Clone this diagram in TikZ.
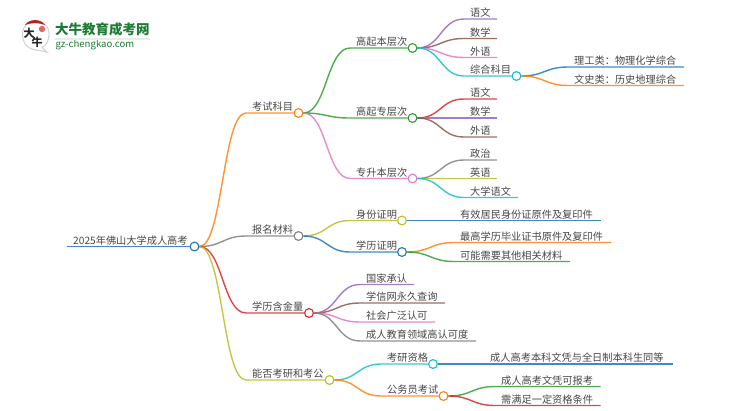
\documentclass[tikz,border=0pt]{standalone}
\usepackage{fontspec}
\setmainfont{Noto Sans CJK SC}
\usetikzlibrary{calc}
\definecolor{cblue}{HTML}{1F77B4}
\definecolor{corange}{HTML}{FF7F0E}
\definecolor{cgreen}{HTML}{2CA02C}
\definecolor{cred}{HTML}{D62728}
\definecolor{cpurple}{HTML}{9467BD}
\definecolor{cbrown}{HTML}{8C564B}
\definecolor{cpink}{HTML}{E377C2}
\definecolor{cgrey}{HTML}{7F7F7F}
\definecolor{colive}{HTML}{BCBD22}
\definecolor{ccyan}{HTML}{17BECF}
\definecolor{logogreen}{HTML}{1E7B34}
\tikzset{
  lbl/.style={anchor=base west,inner sep=0pt,text=black!72,font=\fontsize{10.2}{12}\selectfont},
  conn/.style={line width=1.4pt,draw opacity=.85},
  dot/.style={circle,draw=#1,fill=white,line width=1.1pt,minimum size=8.8pt,inner sep=0pt}
}
% name, parent, x start, y, x end, colour, text
\newcommand\lf[7]{%
  \coordinate (#1-s) at (#3,#4);
  \coordinate (#1-e) at (#5,#4);
  \node[lbl] (#1) at ({#3+6},{#4-2.2}) {#7};
  \coordinate (#1-m) at ($(#2.east)!.5!(#1-s)$);
  \draw[conn,draw=#6] (#2.east) .. controls (#1-m |- #2.east) and (#1-m |- #1-s) .. (#1-s) -- (#1-e);
}
% as \lf, the line ending in a ring at x end
\newcommand\nd[7]{%
  \coordinate (#1-s) at (#3,#4);
  \node[dot=#6] (#1-c) at (#5,#4) {};
  \node[lbl] (#1) at ({#3+6},{#4-2.2}) {#7};
  \coordinate (#1-m) at ($(#2.east)!.5!(#1-s)$);
  \draw[conn,draw=#6] (#2.east) .. controls (#1-m |- #2.east) and (#1-m |- #1-s) .. (#1-s) -- (#1-c.west);
}
\begin{document}
\begin{tikzpicture}[x=1pt,y=-1pt]
\useasboundingbox (0,0) rectangle (750,410);
\fill[white] (0,0) rectangle (750,410);
% logo
\draw[black!18,line width=1pt,fill=white] (36,50) .. controls (24,48) and (22.5,40) .. (22.5,34) .. controls (22.5,26) and (29,20.5) .. (35,20.5) .. controls (43,20.5) and (49,26) .. (49,34) .. controls (49,41) and (46,46) .. (42,47.5) -- (47,52) -- cycle;
\fill[cred!85!black] (25,25) .. controls (29,18.5) and (41,18.5) .. (45,25) .. controls (39,22.5) and (31,22.5) .. (25,25) -- cycle;
\fill[cred!70] (42,29) circle (3.2pt);
\node[inner sep=0pt,font=\fontsize{11}{11}\selectfont\bfseries,text=black!85] (logoa) at (29,33) {大};
\node[inner sep=0pt,font=\fontsize{11}{11}\selectfont\bfseries,text=black!85] (logob) at (37,42) {牛};
\node[anchor=west,inner sep=0pt,font=\fontsize{13.5}{14}\selectfont\bfseries,text=logogreen] (logot) at (55,29.5) {大牛教育成考网};
\node[anchor=west,inner sep=0pt,font=\fontsize{9.6}{10}\selectfont,text=logogreen] (logou) at (55.5,45) {gz-chengkao.com};
\fill[logogreen!12] (55,38) rectangle (150,39.5);
% root
\coordinate (root-s) at (67,246.5);
\node[dot=cblue] (root-c) at (194.5,246.5) {};
\node[lbl] (root) at (73,244.3) {2025年佛山大学成人高考};
\draw[conn,draw=cblue] (root-s) -- (root-c.west);
% level 1
\nd{ks}{root-c}{246}{113}{298.5}{corange}{考试科目}
\nd{bm}{root-c}{246}{236}{298.5}{cgrey}{报名材料}
\nd{xl}{root-c}{246}{313}{309}{cred}{学历含金量}
\nd{ng}{root-c}{246}{380}{329.5}{colive}{能否考研和考公}
% exam subjects
\nd{gb}{ks-c}{350}{48}{412.5}{cgreen}{高起本层次}
\nd{gz}{ks-c}{350}{118}{412.5}{cgreen}{高起专层次}
\nd{zs}{ks-c}{350}{178.5}{412.5}{cpink}{专升本层次}
\lf{gb1}{gb-c}{464}{19}{497}{cpurple}{语文}
\lf{gb2}{gb-c}{464}{38.5}{497}{cbrown}{数学}
\lf{gb3}{gb-c}{464}{57.5}{497}{cpink}{外语}
\nd{gb4}{gb-c}{464}{76}{516.5}{ccyan}{综合科目}
\lf{lg}{gb4-c}{568}{67}{684}{cblue}{理工类：物理化学综合}
\lf{ws}{gb4-c}{568}{85.5}{684}{corange}{文史类：历史地理综合}
\lf{gz1}{gz-c}{464}{99}{497}{cred}{语文}
\lf{gz2}{gz-c}{464}{118}{497}{cpurple}{数学}
\lf{gz3}{gz-c}{464}{137}{497}{cbrown}{外语}
\lf{zs1}{zs-c}{464}{160}{497}{cgrey}{政治}
\lf{zs2}{zs-c}{464}{178.5}{497}{colive}{英语}
\lf{zs3}{zs-c}{464}{197.5}{518}{ccyan}{大学语文}
% application materials
\nd{sf}{bm-c}{350}{220.5}{402}{colive}{身份证明}
\nd{xz}{bm-c}{350}{252}{402}{cblue}{学历证明}
\lf{sf1}{sf-c}{454}{220.5}{600.5}{cblue}{有效居民身份证原件及复印件}
\lf{xz1}{xz-c}{454}{242.5}{611}{corange}{最高学历毕业证书原件及复印件}
\lf{xz2}{xz-c}{454}{261.5}{570}{cgreen}{可能需要其他相关材料}
% value of the diploma
\lf{xl1}{xl-c}{360}{284.5}{414}{cpurple}{国家承认}
\lf{xl2}{xl-c}{360}{303}{445}{cbrown}{学信网永久查询}
\lf{xl3}{xl-c}{360}{322}{435}{cpink}{社会广泛认可}
\lf{xl4}{xl-c}{360}{341}{476}{cgrey}{成人教育领域高认可度}
% graduate and civil-service exams
\nd{ky}{ng-c}{381}{364}{433}{ccyan}{考研资格}
\nd{gw}{ng-c}{381}{396}{443.5}{corange}{公务员考试}
\lf{ky1}{ky-c}{484}{364}{673}{cblue}{成人高考本科文凭与全日制本科生同等}
\lf{gw1}{gw-c}{495}{386.5}{600.5}{cgreen}{成人高考文凭可报考}
\lf{gw2}{gw-c}{495}{405.5}{600.5}{cred}{需满足一定资格条件}
\end{tikzpicture}
\end{document}
